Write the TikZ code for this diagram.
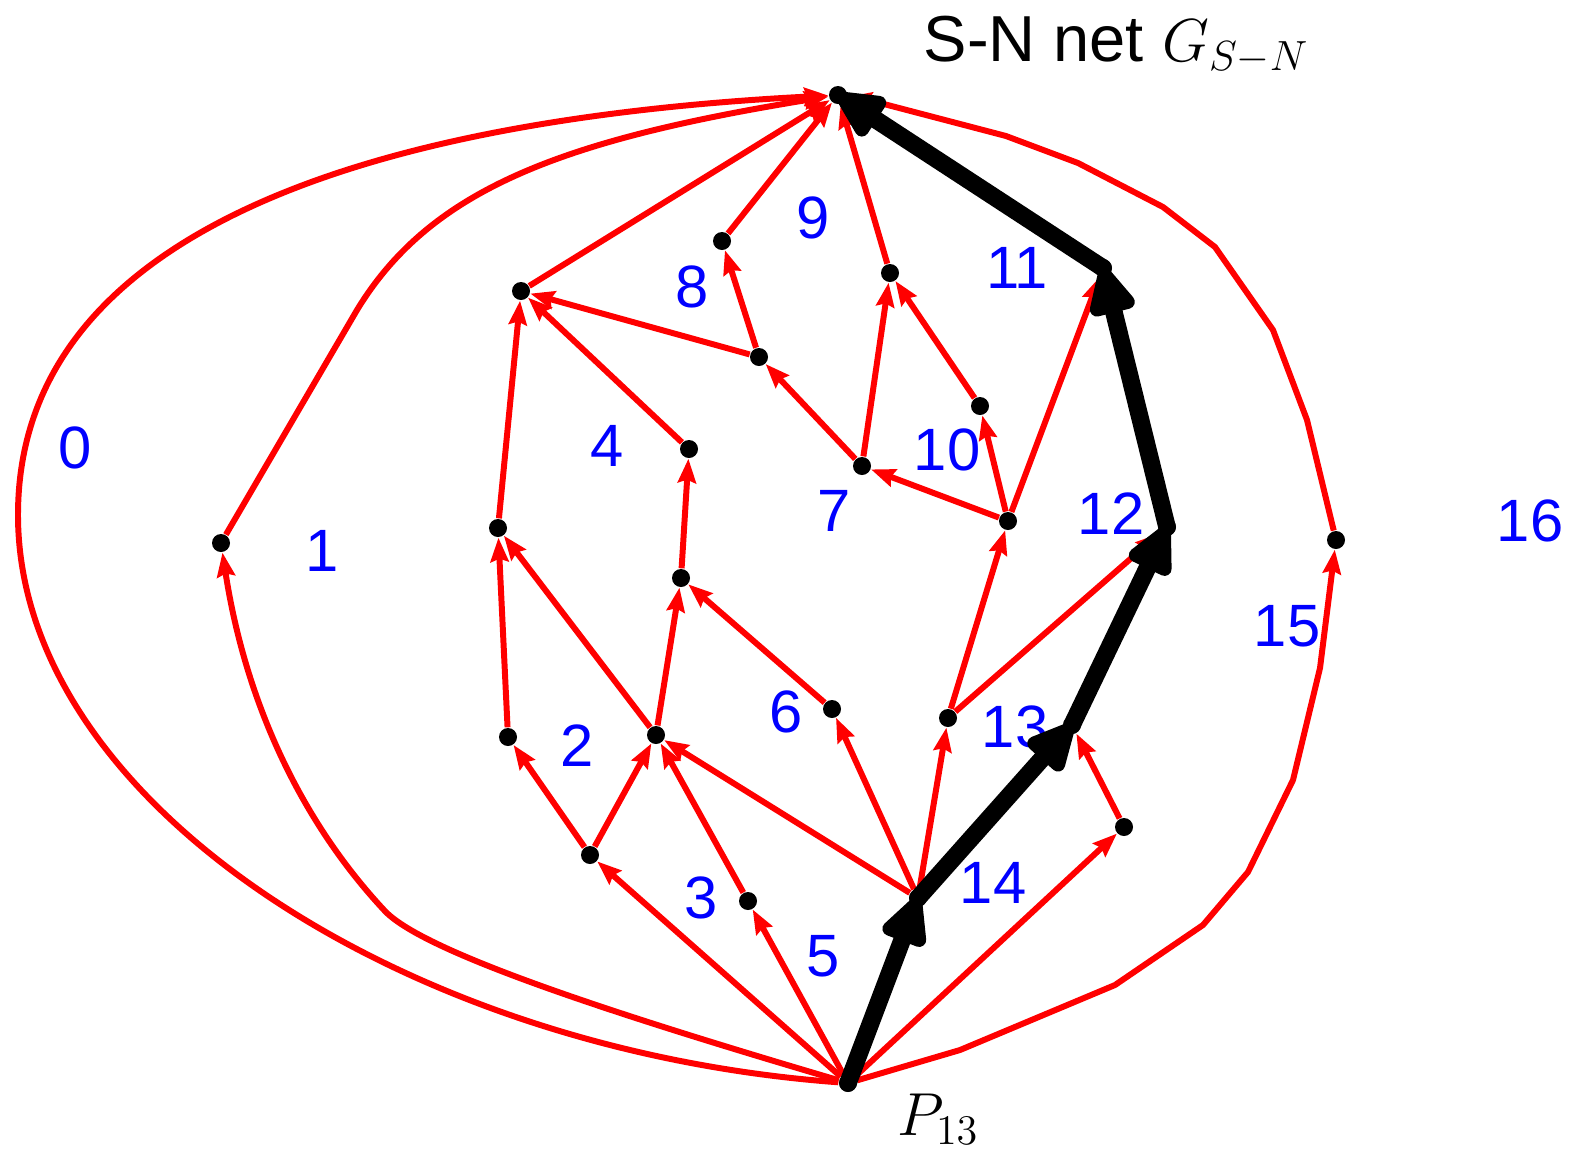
\documentclass[tikz,border=0pt]{standalone}
\usepackage{fontspec}
\setmainfont{Liberation Sans}
\usetikzlibrary{arrows.meta}

\begin{document}
\begin{tikzpicture}[x=0.1mm, y=-0.1mm, font=\fontsize{17}{20}\selectfont,
  dot/.style={circle, fill=black, inner sep=0pt, minimum size=1.8mm},
  redge/.style={draw=red, line width=1.7pt,
    -{Stealth[length=2.4mm, width=1.8mm, inset=0.3mm]}},
  bedge/.style={draw=black, line width=5pt, line cap=round, line join=round,
    -{Triangle[length=5.6mm, width=5mm, round]}},
  face/.style={text=blue, inner sep=0pt}]
\useasboundingbox (0,0) rectangle (1572,1150);
% vertices
\node[dot] (N) at (838,95) {};
\node[dot] (S) at (848,1083) {};
\node[dot] (a) at (221,543) {};
\node[dot] (b) at (521,291) {};
\node[dot] (c) at (722,241) {};
\node[dot] (d) at (890,273) {};
\node[dot] (e) at (759,357) {};
\node[dot] (f) at (689,449) {};
\node[dot] (g) at (862,466) {};
\node[dot] (h) at (980,406) {};
\node[dot] (i) at (1008,521) {};
\node[dot] (j) at (1103,268) {};
\node[dot] (k) at (1167,527) {};
\node[dot] (l) at (1336,540) {};
\node[dot] (m) at (498,528) {};
\node[dot] (n) at (681,578) {};
\node[dot] (o) at (508,737) {};
\node[dot] (p) at (656,735) {};
\node[dot] (q) at (832,709) {};
\node[dot] (r) at (948,718) {};
\node[dot] (s) at (1072,725) {};
\node[dot] (t) at (1124,827) {};
\node[dot] (u) at (590,855) {};
\node[dot] (v) at (748,901) {};
\node[dot] (w) at (918,898) {};
% outer edges
\draw[redge] (S) .. controls (400,1050) and (18,800) .. (18,515)
  .. controls (18,200) and (450,115) .. (N);
\draw[redge] (S) .. controls (600,1010) and (420,950) .. (384,910)
  .. controls (300,820) and (245,700) .. (a);
\draw[redge] (a) -- (357,310) .. controls (430,190) and (560,140) .. (N);
\draw[redge] (S) -- (960,1050) -- (1115,985) -- (1203,925) -- (1248,872)
  -- (1293,780) -- (1320,668) -- (l);
\draw[redge] (l) -- (1307,420) -- (1273,330) -- (1215,247) -- (1163,207)
  -- (1078,163) -- (1006,136) -- (880,103) -- (N);
% inner edges
\draw[redge] (S) -- (u);
\draw[redge] (S) -- (v);
\draw[redge] (S) -- (t);
\draw[redge] (u) -- (o);
\draw[redge] (u) -- (p);
\draw[redge] (v) -- (p);
\draw[redge] (w) -- (p);
\draw[redge] (w) -- (q);
\draw[redge] (w) -- (r);
\draw[redge] (t) -- (s);
\draw[redge] (o) -- (m);
\draw[redge] (p) -- (m);
\draw[redge] (p) -- (n);
\draw[redge] (q) -- (n);
\draw[redge] (n) -- (f);
\draw[redge] (m) -- (b);
\draw[redge] (f) -- (b);
\draw[redge] (e) -- (b);
\draw[redge] (b) -- (N);
\draw[redge] (e) -- (c);
\draw[redge] (c) -- (N);
\draw[redge] (g) -- (e);
\draw[redge] (g) -- (d);
\draw[redge] (h) -- (d);
\draw[redge] (d) -- (N);
\draw[redge] (i) -- (g);
\draw[redge] (i) -- (h);
\draw[redge] (i) -- (j);
\draw[redge] (r) -- (i);
\draw[redge] (r) -- (k);
% faces
\node[face] (f0) at (75,448) {0};
\node[face] (f1) at (322,551) {1};
\node[face] (f2) at (577,746) {2};
\node[face] (f3) at (701,898) {3};
\node[face] (f4) at (607,446) {4};
\node[face] (f5) at (823,956) {5};
\node[face] (f6) at (786,712) {6};
\node[face] (f7) at (834,511) {7};
\node[face] (f8) at (692,287) {8};
\node[face] (f9) at (813,218) {9};
\node[face] (f10) at (947,450) {10};
\node[face] (f11) at (1017,268) {11};
\node[face] (f12) at (1111,514) {12};
\node[face] (f13) at (1015,727) {13};
\node[face] (f14) at (993,883) {14};
\node[face] (f15) at (1287,626) {15};
\node[face] (f16) at (1530,521) {16};
% the path of P13
\draw[bedge] (S.center) -- (w.center);
\draw[bedge] (w.center) -- (s.center);
\draw[bedge] (s.center) -- (k.center);
\draw[bedge] (k.center) -- (j.center);
\draw[bedge] (j.center) -- (N.center);
\node[anchor=base west, inner sep=0pt, font=\fontsize{18.5}{22}\selectfont]
  (title) at (923,61) {S-N net $G_{S-N}$};
\node[anchor=base west, inner sep=0pt] (plab) at (897,1135) {$P_{13}$};
\end{tikzpicture}
\end{document}
